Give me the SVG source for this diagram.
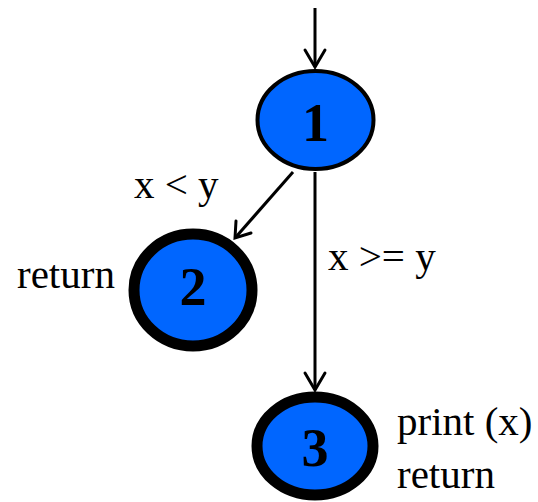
<svg xmlns="http://www.w3.org/2000/svg" width="538" height="502" viewBox="0 0 538 502">
<style>
.lbl{font-family:"Liberation Serif",serif;font-size:41px;fill:#000}
.num{font-family:"Liberation Serif",serif;font-size:54px;font-weight:bold;fill:#000;text-anchor:middle}
.node{fill:#0066ff;stroke:#000}
.edge{stroke:#000;stroke-width:3;fill:none}
.head{stroke:#000;stroke-width:3;fill:none;stroke-linecap:round;stroke-linejoin:miter}
</style>
<rect width="538" height="502" fill="#fff"/>
<g id="connectors">
<line class="edge" x1="315" y1="8" x2="315" y2="67"/>
<polyline class="head" points="305,50 315,67 325,50"/>
<line class="edge" x1="293" y1="172" x2="235" y2="238"/>
<polyline class="head" points="236,221 235,238 251,233"/>
<line class="edge" x1="315" y1="172" x2="315" y2="390"/>
<polyline class="head" points="305,373 315,390 325,373"/>
<text class="lbl" x="134" y="198">x &lt; y</text>
<text class="lbl" x="328" y="270">x &gt;= y</text>
</g>
<g id="node1">
<ellipse class="node" cx="315.5" cy="120" rx="58" ry="49" stroke-width="4"/>
<text class="num" x="315.5" y="141">1</text>
</g>
<g id="node2">
<ellipse class="node" cx="193" cy="290" rx="59" ry="56" stroke-width="11"/>
<text class="num" x="193" y="305">2</text>
<text class="lbl" x="17" y="288">return</text>
</g>
<g id="node3">
<ellipse class="node" cx="315" cy="446" rx="58" ry="49" stroke-width="11"/>
<text class="num" x="315" y="466">3</text>
<text class="lbl" x="397" y="435">print (x)</text>
<text class="lbl" x="397" y="488">return</text>
</g>
</svg>
